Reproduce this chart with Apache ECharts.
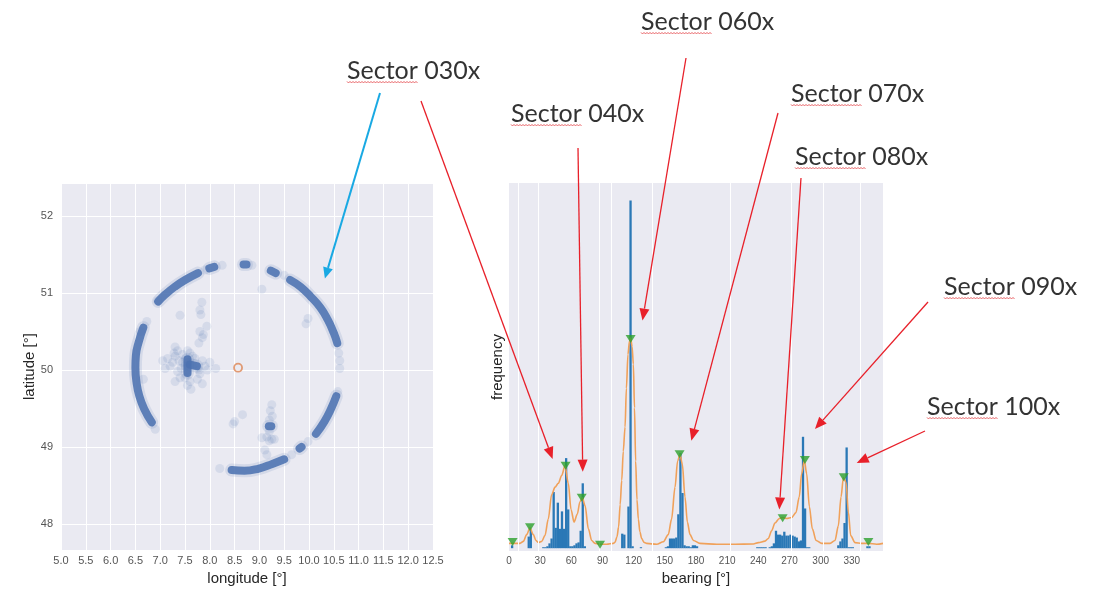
<!DOCTYPE html>
<html>
<head>
<meta charset="utf-8">
<title>bearing sectors</title>
<script src="https://cdn.jsdelivr.net/npm/echarts@6.0.0/dist/echarts.min.js"></script>
<style>
html, body { margin: 0; padding: 0; background: #fff; }
#main { width: 1102px; height: 591px; }
</style>
</head>
<body>
<div id="main"></div>
<script>
(function () {
	'use strict';

	// ---- map panel: positions (lon, lat) ----
	var station = [[8.57, 50.03]];

	// dense parts of the ring
	var arcWest = [[6.66, 50.55], [6.57, 50.37], [6.51, 50.19], [6.50, 50.03], [6.52, 49.85], [6.58, 49.66], [6.68, 49.49], [6.83, 49.32]];
	var arcNorthWest = [[6.96, 50.89], [7.10, 50.98], [7.29, 51.08], [7.50, 51.17], [7.76, 51.26]];
	var blobNorthWest = [[7.99, 51.32], [8.09, 51.34]];
	var blobNorth = [[8.68, 51.37], [8.74, 51.37]];
	var blobNorthEast = [[9.23, 51.29], [9.33, 51.26]];
	var arcEast = [[9.62, 51.17], [9.83, 51.08], [10.04, 50.95], [10.23, 50.81], [10.38, 50.65], [10.50, 50.48], [10.57, 50.35]];
	var arcSouthEast = [[10.55, 49.66], [10.44, 49.49], [10.31, 49.33], [10.14, 49.17]];
	var blobSouthEast = [[9.81, 48.98], [9.85, 49.00]];
	var arcSouth = [[8.44, 48.70], [8.70, 48.69], [8.99, 48.72], [9.26, 48.78], [9.50, 48.84]];
	var blobInner = [[9.19, 49.27], [9.24, 49.27]];
	var coreWest = [[7.55, 49.96], [7.55, 50.14]];
	var coreWestBar = [[7.60, 50.07], [7.74, 50.05]];

	// scattered single fixes
	var scatterWest = [[7.52, 50.15], [7.55, 50.10], [7.55, 50.05], [7.55, 50.00], [7.55, 49.95], [7.60, 50.08], [7.65, 50.05],
		[7.70, 50.08], [7.75, 50.04], [7.78, 50.00], [7.50, 50.05], [7.45, 50.10], [7.42, 50.02], [7.38, 50.12], [7.35, 49.98],
		[7.30, 50.18], [7.25, 50.10], [7.20, 50.05], [7.15, 50.15], [7.10, 50.02], [7.05, 50.12], [7.30, 50.30], [7.28, 50.22],
		[7.35, 50.25], [7.60, 50.22], [7.65, 50.18], [7.70, 50.15], [7.85, 50.12], [7.90, 50.05], [7.95, 50.00], [8.00, 50.10],
		[8.12, 50.02], [7.80, 49.95], [7.75, 49.88], [7.60, 49.85], [7.55, 49.80], [7.50, 49.90], [7.40, 49.90], [7.30, 49.85],
		[7.62, 49.75], [7.85, 49.82], [7.45, 50.20], [7.55, 50.25]];
	var scatterStreak = [[7.84, 50.88], [7.80, 50.78], [7.82, 50.72], [7.94, 50.57], [7.87, 50.46], [7.85, 50.42], [7.78, 50.35],
		[7.40, 50.71], [7.80, 50.50]];
	var scatterSouth = [[9.25, 49.55], [9.22, 49.47], [9.26, 49.40], [9.20, 49.35], [9.15, 49.13], [9.20, 49.08], [9.25, 49.10],
		[9.05, 49.12], [9.11, 48.96], [9.15, 48.90], [9.30, 49.10], [9.20, 49.20], [8.47, 49.30], [8.50, 49.33], [8.66, 49.42]];
	var scatterStray = [[9.05, 51.05], [9.98, 50.67], [9.94, 50.60], [6.66, 49.88], [6.73, 50.63], [6.90, 49.23], [7.90, 51.30],
		[8.25, 51.36], [10.60, 50.22], [10.62, 50.12], [10.62, 50.02], [10.58, 49.72], [9.98, 49.07], [9.65, 48.90], [8.85, 51.36],
		[9.50, 51.23], [8.20, 48.72], [6.95, 50.90], [6.60, 50.50]];

	// ---- histogram panel: bearing (deg) / frequency ----
	var barBearings = [3, 19, 21,
		33, 35, 37, 39, 41, 43, 45, 47, 49, 51, 53, 55, 57,
		59, 61, 63, 65, 67, 69, 71, 73,
		109, 111, 115, 117, 119, 127,
		151, 153, 155, 157, 159, 161, 163, 165, 167, 169, 171, 173, 175, 177, 179, 181,
		239, 241, 243, 245, 247, 251, 253,
		255, 257, 259, 261, 263, 265, 267, 269, 271, 273, 275, 277, 279, 281, 283, 285, 287, 289,
		317, 319, 321, 323, 325, 327, 329, 331,
		345, 347];
	var barCounts = [3, 12, 19,
		1, 1, 2, 5, 10, 58, 21, 47, 20, 38, 20, 93, 40,
		2, 2, 3, 5, 6, 18, 67, 2,
		15, 14, 43, 359, 2, 1,
		1, 2, 10, 10, 10, 11, 35, 98, 57, 3, 2, 2, 1, 3, 3, 2,
		1, 1, 1, 1, 1, 1, 2,
		5, 18, 14, 14, 13, 17, 13, 13, 14, 13, 12, 11, 7, 8, 115, 41, 1, 1,
		3, 7, 10, 26, 104, 1, 1, 1,
		2, 2];

	var kdeCurve = [[0, 5], [4, 5], [10.6, 5], [13.8, 7], [17, 14], [20.2, 21], [23.4, 14], [25.9, 8], [28.3, 6], [31.5, 7],
		[34.6, 13], [37.8, 30], [41, 55], [44.3, 63], [47.5, 67], [50.7, 75], [53.9, 85], [57.1, 67], [59.7, 40], [62.6, 27],
		[65.7, 35], [68.3, 48], [70.6, 52], [73.2, 44], [76.4, 20], [79.6, 8], [82.8, 5], [87.7, 4], [94, 4], [100.4, 5],
		[102, 6], [104, 12], [105.5, 22], [107, 45], [108.5, 70], [110, 100], [111.7, 125], [113, 165], [114.5, 200], [116, 214],
		[117.1, 217], [118.5, 208], [119.7, 190], [120.8, 145], [121.9, 90], [123.2, 50], [124.5, 30], [126, 17], [127.7, 10],
		[130, 6], [132.5, 5], [142.2, 4], [148.6, 6.7], [153.3, 14], [156.5, 30], [159.8, 63], [162.3, 90], [164.6, 97],
		[166.8, 87], [169.4, 53], [171.7, 27], [174.3, 14], [177.5, 8], [183.8, 5], [199.9, 4], [215.9, 4], [235.2, 4.3],
		[240, 5.7], [246.4, 7.3], [249.6, 10], [252.8, 18], [256, 26], [260.2, 30.7], [263.5, 31.7], [267.3, 30.7], [272, 31.7],
		[276.2, 36.7], [279.4, 53], [281.7, 77], [284.3, 91], [286.5, 77], [289.1, 43], [292, 20], [295.6, 8], [301, 5],
		[309, 5], [313.8, 8], [317, 23], [319.6, 53], [321.9, 73], [324.4, 68], [326.7, 37], [328.9, 13], [333.1, 5.7],
		[339.4, 5], [345.9, 5], [353.9, 4], [360, 5]];

	var peakPoints = [[3.5, 6.5], [20.2, 21.5], [54.5, 85], [70, 52], [87.6, 3.5], [117.1, 216], [164.2, 97],
		[263.4, 31], [284.8, 91], [322.2, 73.3], [345.9, 6.5]];

	var gridBearings = [9, 28.2, 86.9, 98.2, 137.9, 212.7, 272.1, 302.5, 337.9];

	// ---- annotations ----
	var sectorNames = ['Sector 030x', 'Sector 040x', 'Sector 060x', 'Sector 070x', 'Sector 080x', 'Sector 090x', 'Sector 100x'];
	var sectorTips = [[42, 92], [71, 79], [128.5, 235], [175.5, 111], [260.2, 40], [294.5, 123], [334.7, 88]];
	var ringTip = [10.32, 51.19];

	// text left / middle, arrow tail (px)
	var labelBoxes = [
		{ x: 347, y: 71, tail: [421, 101] },
		{ x: 511, y: 114, tail: [578, 148] },
		{ x: 641, y: 22, tail: [686, 58] },
		{ x: 791, y: 94, tail: [778, 113] },
		{ x: 795, y: 157, tail: [801, 178] },
		{ x: 944, y: 287, tail: [928, 302] },
		{ x: 927, y: 407, tail: [925, 431] }
	];
	var ringTail = [380, 93];

	var series = [];
	[arcWest, arcNorthWest, blobNorthWest, blobNorth, blobNorthEast, arcEast, arcSouthEast,
		blobSouthEast, arcSouth, blobInner, coreWest, coreWestBar].forEach(function (arc) {
		// soft halo, then the dense stroke
		series.push({
			type: 'line',
			xAxisIndex: 0,
			yAxisIndex: 0,
			data: arc,
			smooth: true,
			symbol: 'none',
			silent: true,
			lineStyle: { color: '#4c72b0', width: 13, cap: 'round', join: 'round', opacity: 0.14 }
		});
		series.push({
			type: 'line',
			xAxisIndex: 0,
			yAxisIndex: 0,
			data: arc,
			smooth: true,
			symbol: 'none',
			silent: true,
			lineStyle: { color: '#4c72b0', width: 8, cap: 'round', join: 'round', opacity: 0.88 }
		});
	});
	[scatterWest, scatterStreak, scatterSouth, scatterStray].forEach(function (pts) {
		series.push({
			type: 'scatter',
			xAxisIndex: 0,
			yAxisIndex: 0,
			data: pts,
			symbolSize: 9,
			silent: true,
			itemStyle: { color: 'rgba(76,114,176,0.16)' }
		});
	});
	series.push({
		type: 'scatter',
		xAxisIndex: 0,
		yAxisIndex: 0,
		data: station,
		symbol: 'circle',
		symbolSize: 8,
		silent: true,
		z: 5,
		itemStyle: { color: 'rgba(0,0,0,0)', borderColor: '#dd8452', borderWidth: 1.8 }
	});

	// faint vertical grid of the histogram
	series.push({
		type: 'line',
		xAxisIndex: 1,
		yAxisIndex: 1,
		data: [],
		z: 1,
		silent: true,
		markLine: {
			silent: true,
			symbol: ['none', 'none'],
			label: { show: false },
			lineStyle: { color: '#ffffff', width: 1, type: 'solid' },
			data: gridBearings.map(function (b) { return { xAxis: b }; })
		}
	});
	series.push({
		type: 'bar',
		xAxisIndex: 1,
		yAxisIndex: 1,
		barWidth: 2.3,
		silent: true,
		data: barBearings.map(function (b, i) { return [b, barCounts[i]]; }),
		itemStyle: { color: '#2a78b6' }
	});
	series.push({
		type: 'line',
		xAxisIndex: 1,
		yAxisIndex: 1,
		data: kdeCurve,
		smooth: 0.3,
		smoothMonotone: 'x',
		symbol: 'none',
		silent: true,
		lineStyle: { color: '#f0a15a', width: 1.6 }
	});
	series.push({
		type: 'scatter',
		xAxisIndex: 1,
		yAxisIndex: 1,
		data: peakPoints,
		symbol: 'triangle',
		symbolRotate: 180,
		symbolSize: [10, 8],
		silent: true,
		z: 5,
		itemStyle: { color: '#2ca02c' }
	});

	var option = {
		animation: false,
		backgroundColor: '#ffffff',
		textStyle: { fontFamily: 'Liberation Sans' },
		grid: [
			{ left: 61, top: 183, width: 372, height: 377, show: true, backgroundColor: '#eaeaf2', borderWidth: 0 },
			{ left: 509, top: 183, width: 374, height: 380, show: true, backgroundColor: '#eaeaf2', borderWidth: 0 }
		],
		xAxis: [{
			gridIndex: 0,
			type: 'value',
			min: 5,
			max: 12.5,
			interval: 0.5,
			name: 'longitude [°]',
			nameLocation: 'middle',
			nameGap: 14,
			nameTextStyle: { fontSize: 15, color: '#262626' },
			axisLine: { show: false },
			axisTick: { show: false },
			axisLabel: { margin: 5, fontSize: 11, color: '#555', formatter: function (v) { return v.toFixed(1); } },
			splitLine: { show: true, lineStyle: { color: '#ffffff', width: 1 } }
		}, {
			gridIndex: 1,
			type: 'value',
			min: 0,
			max: 360,
			interval: 30,
			name: 'bearing [°]',
			nameLocation: 'middle',
			nameGap: 14,
			nameTextStyle: { fontSize: 15, color: '#262626' },
			axisLine: { show: false },
			axisTick: { show: false },
			axisLabel: { margin: 5, fontSize: 10, color: '#555', formatter: function (v) { return v === 360 ? '' : String(v); } },
			splitLine: { show: false }
		}],
		yAxis: [{
			gridIndex: 0,
			type: 'value',
			min: 47.66,
			max: 52.43,
			minInterval: 1,
			maxInterval: 1,
			name: 'latitude [°]',
			nameLocation: 'middle',
			nameGap: 22,
			nameRotate: 90,
			nameTextStyle: { fontSize: 15, color: '#262626' },
			axisLine: { show: false },
			axisTick: { show: false },
			axisLabel: {
				margin: 8,
				fontSize: 11,
				color: '#555',
				formatter: function (v) { return Math.abs(v - Math.round(v)) < 1e-6 ? String(Math.round(v)) : ''; }
			},
			splitLine: { show: true, lineStyle: { color: '#ffffff', width: 1 } }
		}, {
			gridIndex: 1,
			type: 'value',
			min: -3,
			max: 377,
			name: 'frequency',
			nameLocation: 'middle',
			nameGap: 4,
			nameRotate: 90,
			nameTextStyle: { fontSize: 15, color: '#262626' },
			axisLine: { show: false },
			axisTick: { show: false },
			axisLabel: { show: false },
			splitLine: { show: false }
		}],
		series: series
	};

	var chart = echarts.init(document.getElementById('main'));
	chart.setOption(option);

	function squiggle(x0, y0, w) {
		var pts = [];
		for (var x = 0, k = 0; x <= w; x += 1.5, k++) {
			pts.push([x0 + x, y0 + (k % 2 ? 1 : -0.6)]);
		}
		return { type: 'polyline', silent: true, z: 100, shape: { points: pts }, style: { stroke: '#e5484d', lineWidth: 0.8, fill: null } };
	}

	function addArrow(list, tail, tip, color, width, len, half) {
		var a = Math.atan2(tip[1] - tail[1], tip[0] - tail[0]);
		var bx = tip[0] - len * Math.cos(a);
		var by = tip[1] - len * Math.sin(a);
		list.push({
			type: 'line', silent: true, z: 100,
			shape: { x1: tail[0], y1: tail[1], x2: bx, y2: by },
			style: { stroke: color, lineWidth: width }
		});
		list.push({
			type: 'polygon', silent: true, z: 100,
			shape: { points: [[tip[0], tip[1]], [bx + half * Math.sin(a), by - half * Math.cos(a)], [bx - half * Math.sin(a), by + half * Math.cos(a)]] },
			style: { fill: color }
		});
	}

	var measure = document.createElement('canvas').getContext('2d');
	measure.font = '25px Lato';
	var wordWidth = measure.measureText('Sector').width;
	var graphics = [];
	sectorNames.forEach(function (name, i) {
		var box = labelBoxes[i];
		graphics.push({
			type: 'text', silent: true, z: 100,
			style: { text: name, x: box.x, y: box.y, fill: '#333333', fontSize: 25, fontFamily: 'Lato', verticalAlign: 'middle' }
		});
		graphics.push(squiggle(box.x, box.y + 11, wordWidth));
		addArrow(graphics, box.tail, chart.convertToPixel({ gridIndex: 1 }, sectorTips[i]), '#e8202a', 1.3, 12, 5);
	});
	addArrow(graphics, ringTail, chart.convertToPixel({ gridIndex: 0 }, ringTip), '#19a9e3', 2, 11, 5);
	chart.setOption({ graphic: graphics });
	window.onresize = chart.resize;
}());
</script>
</body>
</html>
